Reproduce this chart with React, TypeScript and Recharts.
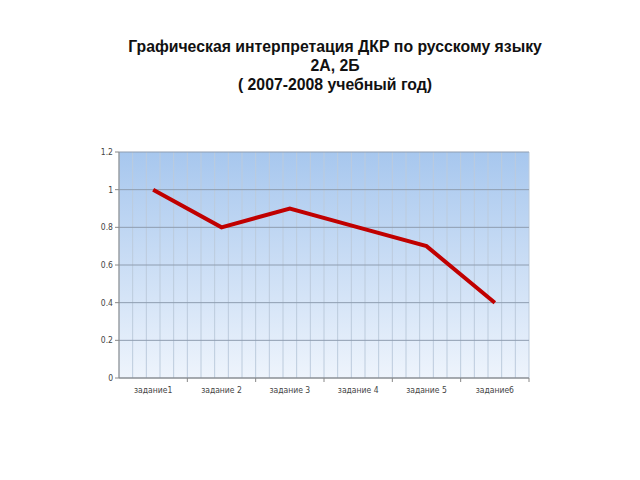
import React from 'react';
import { CartesianGrid, Line, LineChart, XAxis, YAxis } from 'recharts';

const tasks = ['задание1', 'задание 2', 'задание 3', 'задание 4', 'задание 5', 'задание6'];
const scores = [1, 0.8, 0.9, 0.8, 0.7, 0.4];
const yTicks = [0, 0.2, 0.4, 0.6, 0.8, 1, 1.2];

const titleLines = [
    'Графическая интерпретация ДКР по русскому языку',
    '2А, 2Б',
    '( 2007-2008 учебный год)',
];

const data = tasks.map((name, i) => ({ name, value: scores[i] }));

const W = 640;
const H = 480;
const margin = { top: 152, right: 111, bottom: 82, left: 89 };
const plotWidth = W - margin.left - margin.right - 30;
const band = plotWidth / tasks.length;

// label at the category centre, tick mark at the category boundary (like Excel)
const TaskTick = (props: any) => {
    const { x, y, payload } = props;
    return (
        <g>
            <line x1={x + band / 2} y1={y - 8} x2={x + band / 2} y2={y - 4} stroke="#888" />
            <text x={x} y={y + 7} textAnchor="middle" fontSize={8.5} fill="#444" fontFamily="'DejaVu Sans Condensed', 'Liberation Sans', Arial">
                {payload.value}
            </text>
        </g>
    );
};

const App = () => {
    return (
        <div style={{ position: 'absolute', left: 0, top: 0, width: W, height: H, background: '#fff' }}>
            <div
                style={{
                    position: 'absolute',
                    left: 0,
                    top: 37,
                    width: 670,
                    textAlign: 'center',
                    fontFamily: "'Liberation Sans', Arial, sans-serif",
                    fontWeight: 'bold',
                    fontSize: 15.8,
                    lineHeight: '19px',
                    color: '#111',
                }}
            >
                {titleLines.map((t, i) => (
                    <div key={i}>{t}</div>
                ))}
            </div>
            <LineChart width={W} height={H} data={data} margin={margin}>
                <defs>
                    <linearGradient id="plotBg" x1="0" y1="0" x2="0" y2="1">
                        <stop offset="0%" stopColor="#a7c7ee" />
                        <stop offset="100%" stopColor="#eef4fc" />
                    </linearGradient>
                </defs>
                <CartesianGrid
                    fill="url(#plotBg)"
                    stroke="#bccbdc"
                    horizontal={false}
                    verticalCoordinatesGenerator={({ offset }: any) =>
                        Array.from({ length: 31 }, (_, i) => offset.left + (offset.width * i) / 30)
                    }
                />
                <CartesianGrid stroke="#8e9db0" vertical={false} />
                <XAxis
                    dataKey="name"
                    stroke="#888"
                    tickLine={false}
                    tick={<TaskTick />}
                    interval={0}
                    height={20}
                    padding={{ left: band / 2, right: band / 2 }}
                />
                <YAxis
                    domain={[0, 1.2]}
                    ticks={yTicks}
                    tickFormatter={(v: number) => String(v)}
                    stroke="#888"
                    tickSize={4}
                    width={30}
                    tick={{ fontSize: 8.5, fill: '#444', fontFamily: "'DejaVu Sans Condensed', 'Liberation Sans', Arial" }}
                />
                <Line
                    dataKey="value"
                    stroke="#c00000"
                    strokeWidth={4}
                    dot={false}
                    isAnimationActive={false}
                />
            </LineChart>
        </div>
    );
};

export default App;
